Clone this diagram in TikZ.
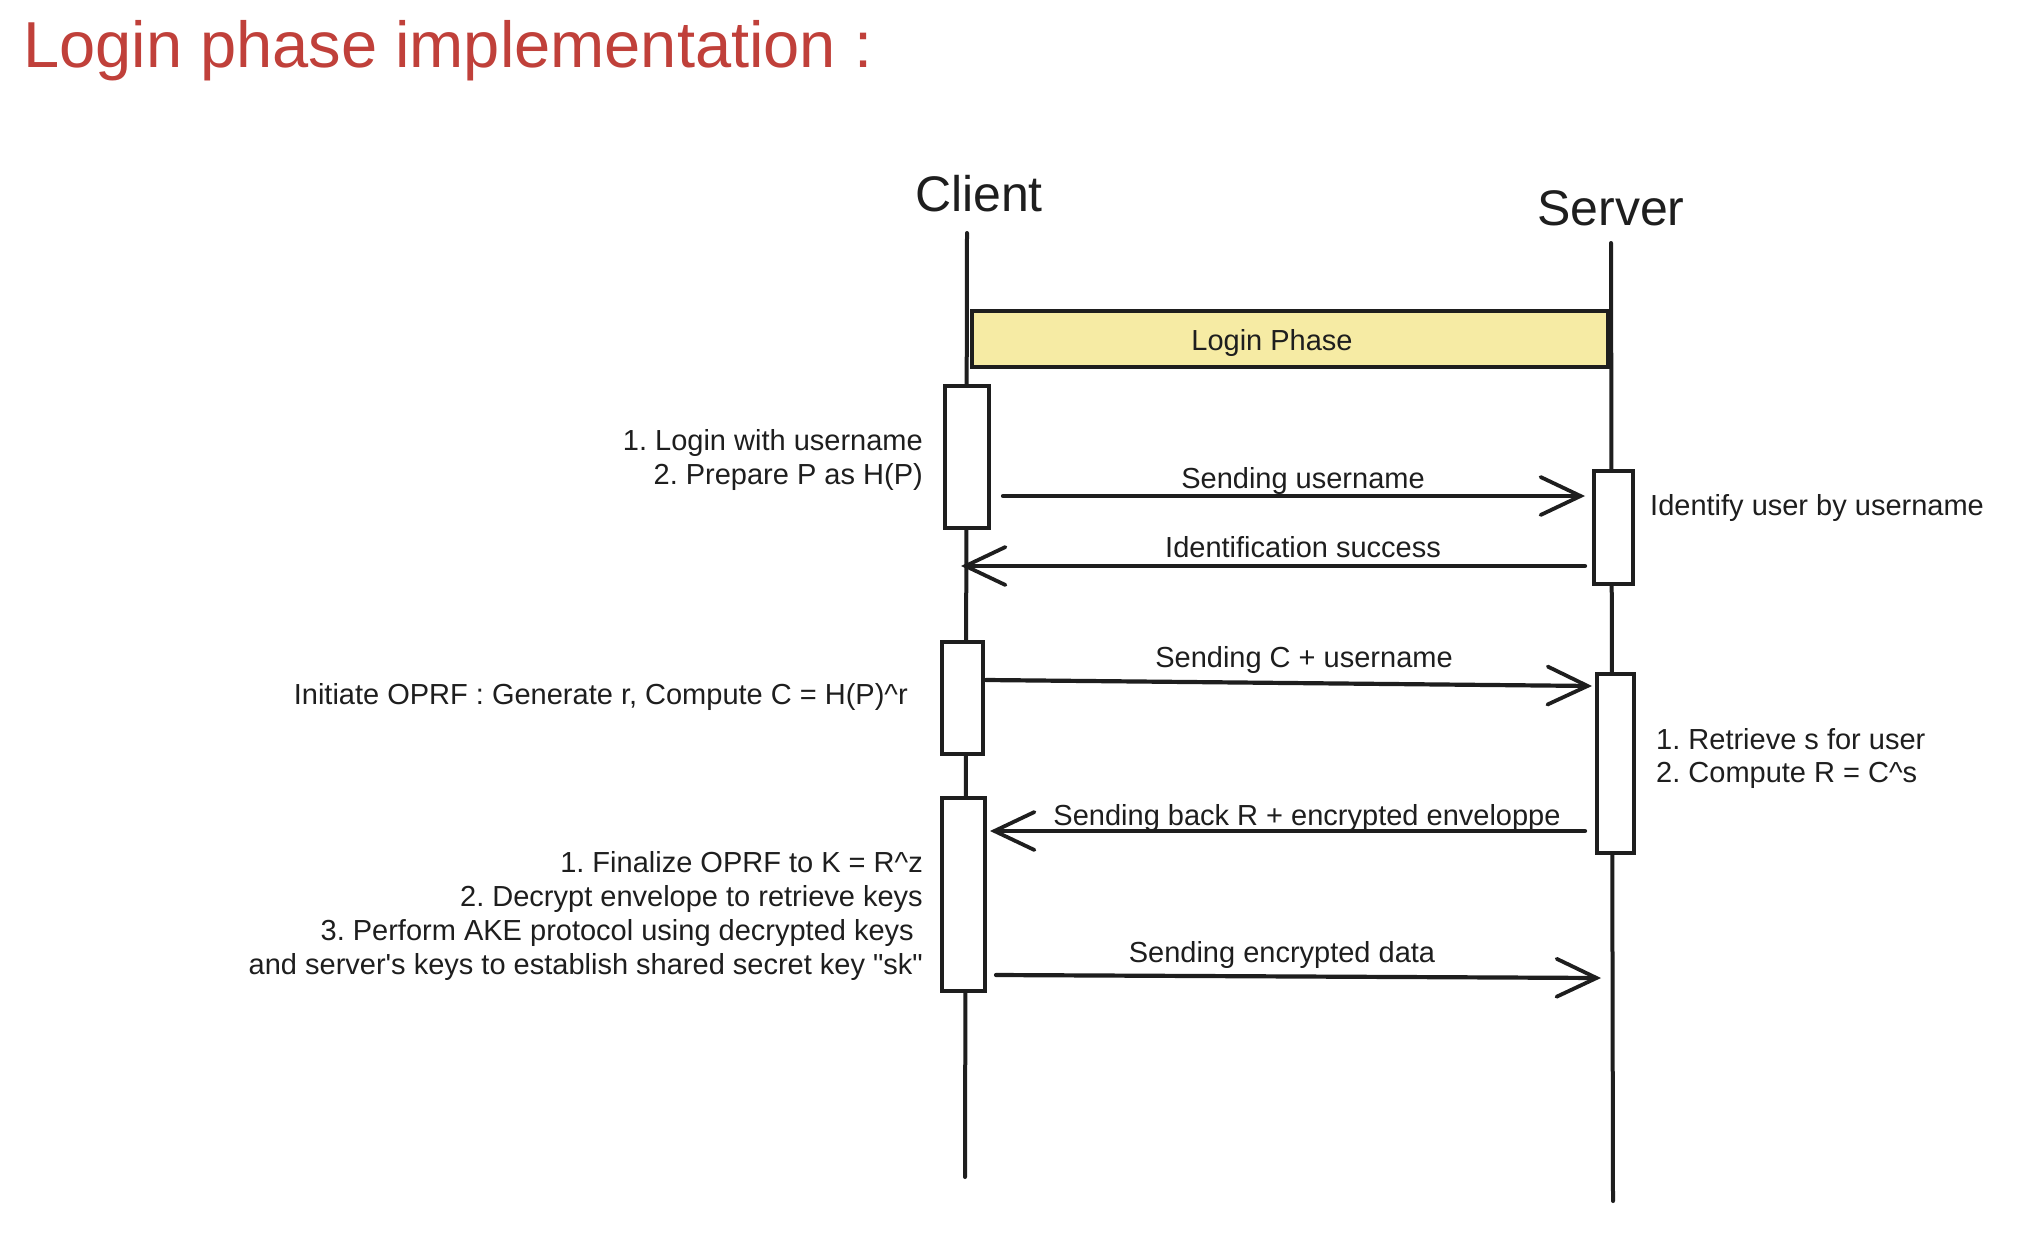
\documentclass[tikz,border=0pt]{standalone}
\usepackage{fontspec}
\setmainfont{Liberation Sans}
\usetikzlibrary{arrows.meta}
\definecolor{titlered}{HTML}{C0403A}
\definecolor{phaseyellow}{HTML}{F6EBA4}
\definecolor{ink}{HTML}{1E1E1E}
\frenchspacing
\begin{document}
\begin{tikzpicture}[x=1pt,y=-1pt,
  lifeline/.style={draw=ink,line width=4pt,line cap=round},
  actbox/.style={draw=ink,fill=white,line width=3.2pt,inner sep=0pt},
  msg/.style={draw=ink,line width=4.2pt,line cap=round,
    -{Straight Barb[length=40pt,width=38pt,line width=3.8pt,line cap=round]}},
  txt/.style={font=\fontsize{29}{34}\selectfont,text=ink,inner sep=0pt},
  actor/.style={font=\fontsize{50}{56}\selectfont,text=ink,inner sep=0pt}
]
\useasboundingbox[fill=white] (0,0) rectangle (2029,1242);

% title
\node[anchor=base west,inner sep=0pt,text=titlered,font=\fontsize{65}{72}\selectfont] (title) at (23,67) {Login phase implementation :};

% actors
\node[actor] (client) at (979,194) {Client};
\node[actor] (server) at (1611,208) {Server};

% lifelines
\coordinate (ctop) at (967,233);
\coordinate (cbot) at (965,1177);
\coordinate (stop) at (1611,243);
\coordinate (sbot) at (1613,1201);
\draw[lifeline] (ctop) -- (cbot);
\draw[lifeline] (stop) -- (sbot);

% phase box
\node[draw=ink,fill=phaseyellow,line width=4.5pt,minimum width=636pt,minimum height=56pt,inner sep=0pt] (phase) at (1290,339) {};
\node[txt] (phaselabel) at (1272,343) {Login Phase};

% activation boxes
\node[actbox,minimum width=44pt,minimum height=142pt] (c1) at (967,457) {};
\node[actbox,minimum width=41pt,minimum height=112pt] (c2) at (962.5,698) {};
\node[actbox,minimum width=43pt,minimum height=193pt] (c3) at (963.5,894.5) {};
\node[actbox,minimum width=39pt,minimum height=113pt] (s1) at (1613.5,527.5) {};
\node[actbox,minimum width=37pt,minimum height=179pt] (s2) at (1615.5,763.5) {};

% message endpoints
\coordinate (m1a) at (1003,496);
\coordinate (m1b) at (1585,496);
\coordinate (m2a) at (1585,566);
\coordinate (m2b) at (961,566);
\coordinate (m3a) at (986,680);
\coordinate (m3b) at (1592,686);
\coordinate (m4a) at (1585,831);
\coordinate (m4b) at (990,831);
\coordinate (m5a) at (996,975);
\coordinate (m5b) at (1601,978);

\draw[msg] (m1a) -- (m1b);
\draw[msg] (m2a) -- (m2b);
\draw[msg] (m3a) -- (m3b);
\draw[msg] (m4a) -- (m4b);
\draw[msg] (m5a) -- (m5b);

% message labels
\node[txt,anchor=base] (l1) at (1303,488) {Sending username};
\node[txt,anchor=base] (l2) at (1303,557) {Identification success};
\node[txt,anchor=base] (l3) at (1304,667) {Sending C + username};
\node[txt,anchor=base] (l4) at (1307,825) {Sending back R + encrypted enveloppe};
\node[txt,anchor=base] (l5) at (1282,962) {Sending encrypted data};

% client notes
\node[txt,anchor=base east] (n1a) at (923,450) {1. Login with username};
\node[txt,anchor=base east] (n1b) at (923,484) {2. Prepare P as H(P)};
\node[txt,anchor=base east] (n2) at (908,704) {Initiate OPRF : Generate r, Compute C = H(P)\textasciicircum r};
\node[txt,anchor=base east] (n3a) at (923,872) {1. Finalize OPRF to K = R\textasciicircum z};
\node[txt,anchor=base east] (n3b) at (923,906) {2. Decrypt envelope to retrieve keys};
\node[txt,anchor=base east] (n3c) at (914,940) {3. Perform AKE protocol using decrypted keys};
\node[txt,anchor=base east] (n3d) at (923,974) {and server\textquotesingle s keys to establish shared secret key \textquotedbl sk\textquotedbl};

% server notes
\node[txt,anchor=base west] (n4) at (1650,515) {Identify user by username};
\node[txt,anchor=base west] (n5a) at (1656,749) {1. Retrieve s for user};
\node[txt,anchor=base west] (n5b) at (1656,782) {2. Compute R = C\textasciicircum s};
\end{tikzpicture}
\end{document}
